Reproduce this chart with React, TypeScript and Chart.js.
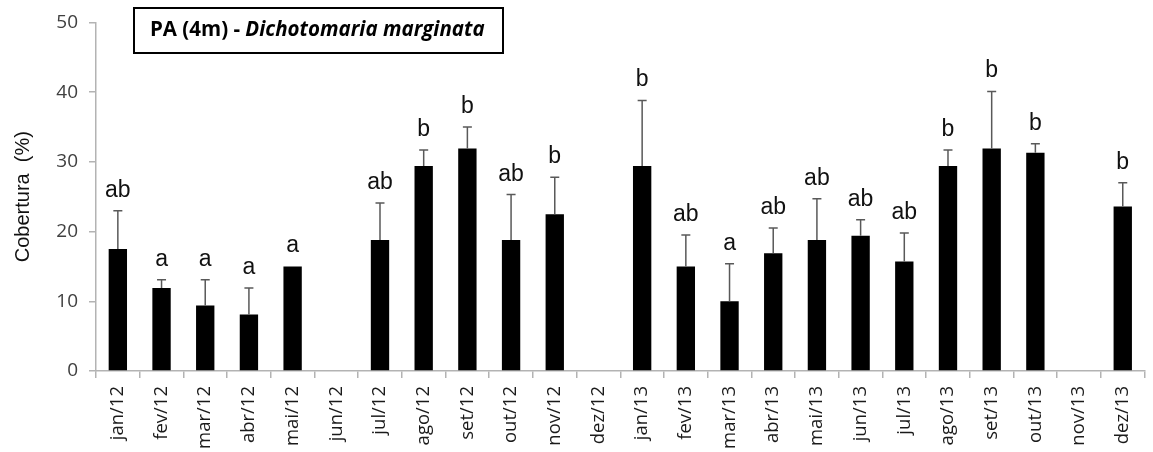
import { useEffect, useRef } from "react";
import { Chart, registerables } from "chart.js";

Chart.register(...registerables);

const categories = [
  "jan/12", "fev/12", "mar/12", "abr/12", "mai/12", "jun/12",
  "jul/12", "ago/12", "set/12", "out/12", "nov/12", "dez/12",
  "jan/13", "fev/13", "mar/13", "abr/13", "mai/13", "jun/13",
  "jul/13", "ago/13", "set/13", "out/13", "nov/13", "dez/13",
];

const coverMeans: (number | null)[] = [
  17.5, 11.9, 9.4, 8.1, 15.0, null,
  18.8, 29.4, 31.9, 18.8, 22.5, null,
  29.4, 15.0, 10.0, 16.9, 18.8, 19.4,
  15.7, 29.4, 31.9, 31.3, null, 23.6,
];

const coverErrors: (number | null)[] = [
  5.5, 1.2, 3.7, 3.8, 0, null,
  5.3, 2.3, 3.1, 6.5, 5.3, null,
  9.4, 4.5, 5.4, 3.6, 5.9, 2.3,
  4.1, 2.3, 8.2, 1.3, null, 3.4,
];

const groupLetters = [
  "ab", "a", "a", "a", "a", "",
  "ab", "b", "b", "ab", "b", "",
  "b", "ab", "a", "ab", "ab", "ab",
  "ab", "b", "b", "b", "", "b",
];

const yTicks = [0, 10, 20, 30, 40, 50];

const titleMain = "PA (4m) - ";
const titleItalic = "Dichotomaria marginata";
const yAxisTitle = "Cobertura  (%)";

const errorBarPlugin = {
  id: "errorBarsAndLetters",
  afterDatasetsDraw(chart: any) {
    const ctx = chart.ctx;
    const meta = chart.getDatasetMeta(0);
    const yScale = chart.scales.y;
    ctx.save();
    meta.data.forEach((bar: any, i: number) => {
      const m = coverMeans[i];
      const e = coverErrors[i];
      if (m == null) return;
      const x = bar.x;
      const yBase = yScale.getPixelForValue(m);
      const yTop = yScale.getPixelForValue(m + (e || 0));
      if (e && e > 0) {
        ctx.strokeStyle = "#595959";
        ctx.lineWidth = 1.5;
        ctx.beginPath();
        ctx.moveTo(x, yBase);
        ctx.lineTo(x, yTop);
        ctx.moveTo(x - 4.5, yTop);
        ctx.lineTo(x + 4.5, yTop);
        ctx.stroke();
      }
      const letter = groupLetters[i];
      if (letter) {
        ctx.fillStyle = "#111";
        ctx.font = "23px 'Liberation Sans', Arial, sans-serif";
        ctx.textAlign = "center";
        ctx.textBaseline = "alphabetic";
        ctx.fillText(letter, x, yTop - 14);
      }
    });
    ctx.restore();
  },
};

const titleBoxPlugin = {
  id: "titleBox",
  afterDraw(chart: any) {
    const ctx = chart.ctx;
    ctx.save();
    ctx.strokeStyle = "#000";
    ctx.lineWidth = 2;
    ctx.strokeRect(134, 8, 369, 45);
    ctx.fillStyle = "#000";
    ctx.textBaseline = "alphabetic";
    ctx.textAlign = "left";
    ctx.font = "bold 20.5px 'Open Sans', Lato, sans-serif";
    const w = ctx.measureText(titleMain).width;
    ctx.fillText(titleMain, 150, 36);
    ctx.font = "italic bold 20.5px 'Open Sans', Lato, sans-serif";
    ctx.fillText(titleItalic, 150 + w, 36);
    ctx.restore();
  },
};

export default function App() {
  const canvasRef = useRef<HTMLCanvasElement | null>(null);

  useEffect(() => {
    document.body.style.margin = "0";
    const canvas = canvasRef.current;
    if (!canvas) return;
    const chart = new Chart(canvas, {
      type: "bar",
      data: {
        labels: categories,
        datasets: [
          {
            data: coverMeans as any,
            backgroundColor: "#000",
            borderColor: "#000",
            borderWidth: 0,
            barPercentage: 0.42,
            categoryPercentage: 1.0,
          },
        ],
      },
      options: {
        responsive: false,
        animation: false,
        devicePixelRatio: 1,
        layout: { padding: { left: 0, right: 2, top: 22, bottom: 0 } },
        plugins: {
          legend: { display: false },
          tooltip: { enabled: false },
          title: { display: false },
        },
        scales: {
          x: {
            offset: true,
            grid: {
              offset: true,
              display: true,
              drawOnChartArea: false,
              drawTicks: true,
              tickLength: 7,
              color: "#b3b3b3",
              lineWidth: 1.5,
            },
            border: { display: true, color: "#b3b3b3", width: 1.5 },
            ticks: {
              autoSkip: false,
              maxRotation: 90,
              minRotation: 90,
              padding: 8,
              color: "#1a1a1a",
              font: { family: "'Open Sans', Lato, sans-serif", size: 18.5 },
            },
            afterFit(scale: any) {
              scale.height = 81;
            },
          },
          y: {
            min: 0,
            max: 50,
            afterBuildTicks(scale: any) {
              scale.ticks = yTicks.map((v) => ({ value: v }));
            },
            grid: {
              display: true,
              drawOnChartArea: false,
              drawTicks: true,
              tickLength: 7,
              color: "#b3b3b3",
              lineWidth: 1.5,
            },
            border: { display: true, color: "#b3b3b3", width: 1.5 },
            ticks: {
              padding: 11,
              color: "#404040",
              font: { family: "'Open Sans', Lato, sans-serif", size: 19 },
            },
            title: {
              display: true,
              text: yAxisTitle,
              color: "#111",
              font: { family: "'Liberation Sans', Arial, sans-serif", size: 20 },
              padding: { top: 11, bottom: 0 },
            },
            afterFit(scale: any) {
              scale.width = 96;
            },
          },
        },
      },
      plugins: [errorBarPlugin, titleBoxPlugin],
    });
    return () => chart.destroy();
  }, []);

  return (
    <div style={{ width: 1153, height: 452, background: "#fff" }}>
      <canvas ref={canvasRef} width={1153} height={452} />
    </div>
  );
}
